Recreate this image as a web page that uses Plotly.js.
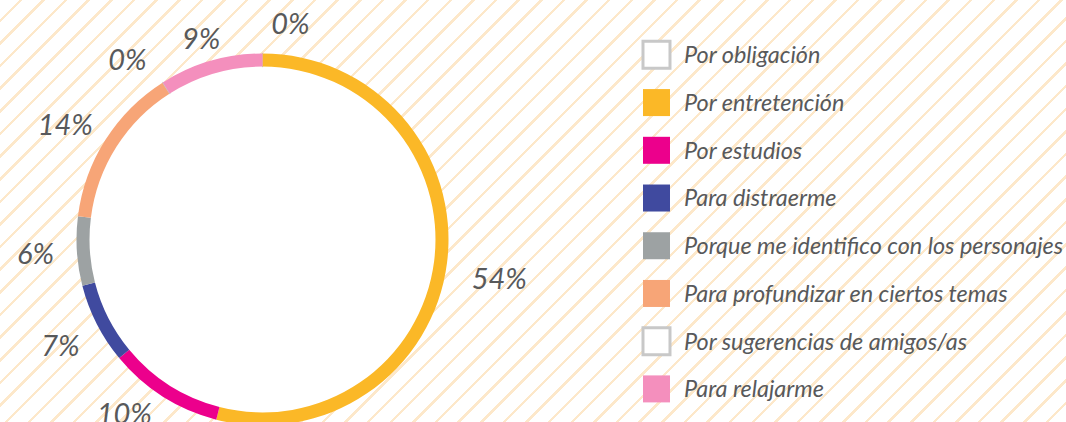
<!DOCTYPE html>
<html><head><meta charset="utf-8">
<script src="https://cdn.plot.ly/plotly-3.0.1.min.js"></script>
<style>
html,body{margin:0;padding:0;width:1066px;height:422px;overflow:hidden;
background:repeating-linear-gradient(135deg,#ffffff 0px,#ffffff 13.5px,#fde8ca 13.5px,#fde8ca 16px);}
#chart{width:1080px;height:450px;}
</style></head><body><div id="chart"></div>
<script>
const categories = ['Por obligación','Por entretención','Por estudios','Para distraerme','Porque me identifico con los personajes','Para profundizar en ciertos temas','Por sugerencias de amigos/as','Para relajarme'];
const percentages = [0, 54, 10, 7, 6, 14, 0, 9];
const sliceColors = ['#ffffff','#fbb827','#ec008c','#404a9f','#9da2a3','#f7a577','#ffffff','#f48fbd'];
const sliceBorderColors = ['#c8c8c8','#fbb827','#ec008c','#404a9f','#9da2a3','#f7a577','#c8c8c8','#f48fbd'];
const sliceBorderWidths = [1.33, 0, 0, 0, 0, 0, 1.33, 0];

// label placement (style only): radius of the label ring and a small angular nudge, per group of slices
const labelGroups = [
  {r:200,   rot:0,   idx:[0, 4, 6]},
  {r:195,   rot:2,   idx:[5]},
  {r:190,   rot:0,   idx:[2]},
  {r:204,   rot:3.5, idx:[1]},
  {r:201,   rot:-3,  idx:[3]},
  {r:188.5, rot:6,   idx:[7]}
];

const W = 1080, H = 450;
const CX = 262.5, CY = 239.5;
function dom(r){ return {x:[(CX-r)/W,(CX+r)/W], y:[(H-CY-r)/H,(H-CY+r)/H]}; }
const legendLabels = categories.map(c => '<span style="font-size:23.4px">'+c+'</span>');
const textColor = '#58595b';
const labelFont = {family:'Lato', size:29, style:'italic', color:textColor};

const disk = {type:'pie', values:[1], labels:['disk'], marker:{colors:['#ffffff']},
  domain:dom(180), textinfo:'none', showlegend:false, hoverinfo:'skip', sort:false};
const ring = {type:'pie', values:percentages, labels:legendLabels, sort:false,
  direction:'clockwise', rotation:0, hole:0.93, domain:dom(186),
  marker:{colors:sliceColors, line:{color:sliceBorderColors, width:sliceBorderWidths}},
  textinfo:'none', hoverinfo:'skip'};
function labelTrace(g){
  return {type:'pie', values:percentages, labels:legendLabels, sort:false,
    direction:'clockwise', rotation:g.rot, domain:dom(g.r), showlegend:false,
    marker:{colors:categories.map(()=> 'rgba(0,0,0,0)')},
    textposition:'outside',
    texttemplate:percentages.map((v,i) => g.idx.includes(i) ? '%{value}%' : ''),
    outsidetextfont:labelFont, textfont:labelFont,
    hoverinfo:'skip', automargin:false};
}

const layout = {width:W, height:H, margin:{l:0,r:0,t:0,b:0},
  paper_bgcolor:'rgba(0,0,0,0)', plot_bgcolor:'rgba(0,0,0,0)',
  showlegend:true,
  legend:{x:629/W, xanchor:'left', y:1-21/H, yanchor:'top', bgcolor:'rgba(0,0,0,0)',
    font:{family:'Lato', size:34.4, style:'italic', color:textColor}, itemwidth:45,
    traceorder:'normal'},
  hovermode:false};

function tweak(){
  document.querySelectorAll('#chart .legend path.legendpie').forEach(p=>{
    if(p.dataset.tw) return;
    const t = p.getAttribute('transform') || '';
    p.setAttribute('transform', t + ' translate(0,5) scale(2.25)');
    p.dataset.tw = '1';
  });
}
Plotly.newPlot('chart', [disk, ring].concat(labelGroups.map(labelTrace)), layout, {staticPlot:true, displayModeBar:false}).then(gd=>{
  tweak();
  gd.on('plotly_afterplot', tweak);
});
</script></body></html>
